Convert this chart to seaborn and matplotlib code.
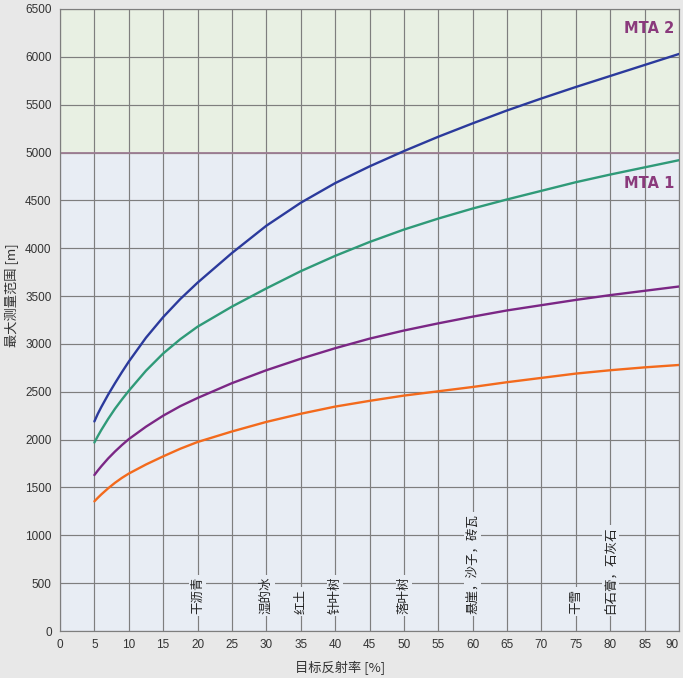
import matplotlib
matplotlib.use("Agg")
import matplotlib.pyplot as plt
import seaborn as sns
import pandas as pd

# Target reflectance [%] at which the range was sampled
reflectance = [5, 5.5, 6, 7, 8, 9, 10, 12.5, 15, 17.5, 20, 25, 30, 35, 40, 45, 50,
               55, 60, 65, 70, 75, 80, 85, 90]

# Maximum measuring range [m] for the four curves
range_blue = [2190, 2270, 2340, 2470, 2590, 2705, 2815, 3065, 3280, 3470, 3640,
              3950, 4235, 4475, 4680, 4855, 5015, 5165, 5305, 5440, 5565, 5685,
              5800, 5915, 6030]
range_green = [1970, 2037, 2100, 2216, 2323, 2419, 2510, 2720, 2900, 3050, 3180,
               3390, 3580, 3760, 3920, 4065, 4195, 4310, 4415, 4510, 4600, 4690,
               4770, 4845, 4920]
range_purple = [1630, 1677, 1721, 1803, 1876, 1943, 2005, 2135, 2250, 2350, 2435,
                2590, 2725, 2845, 2955, 3055, 3140, 3215, 3285, 3350, 3405, 3460,
                3510, 3555, 3600]
range_orange = [1355, 1392, 1427, 1491, 1549, 1600, 1645, 1740, 1825, 1905, 1975,
                2085, 2185, 2270, 2345, 2405, 2460, 2505, 2550, 2600, 2645, 2690,
                2725, 2755, 2780]

series_names = ["blue", "green", "purple", "orange"]
series_colors = ["#2b3a9c", "#2f9a78", "#7b2785", "#f36a1c"]

# Typical surfaces and their reflectance
material_x = [20, 30, 35, 40, 50, 60, 75, 80]
material_labels = ["干沥青", "湿的冰", "红土", "针叶树", "落叶树",
                   "悬崖，沙子，砖瓦", "干雪", "白石膏，石灰石"]

x_ticks = list(range(0, 95, 5))
y_ticks = list(range(0, 7000, 500))

frames = []
for name, vals in zip(series_names, [range_blue, range_green, range_purple, range_orange]):
    frames.append(pd.DataFrame({"reflectance": reflectance, "range": vals, "series": name}))
df = pd.concat(frames, ignore_index=True)

sns.set_theme(style="white")
plt.rcParams["font.family"] = ["Noto Sans CJK SC", "DejaVu Sans"]

fig = plt.figure(figsize=(6.83, 6.78), dpi=100)
fig.patch.set_facecolor("#e8e8e8")
ax = fig.add_axes([60 / 683, 1 - 631 / 678, 619 / 683, 622 / 678])

# Two shaded bands behind the curves
ax.set_facecolor("#e8edf4")
ax.axhspan(5000, 6500, color="#e8f0e3", zorder=0)

grid_color = "#7e7e7e"
for x in x_ticks:
    ax.axvline(x, color=grid_color, lw=0.85, zorder=1)
for y in y_ticks:
    ax.axhline(y, color=grid_color, lw=0.85, zorder=1)
ax.axhline(5000, color="#9c7c92", lw=1.3, zorder=1.5)

sns.lineplot(data=df, x="reflectance", y="range", hue="series",
             palette=dict(zip(series_names, series_colors)),
             linewidth=1.7, legend=False, ax=ax, zorder=3)

for x, lab in zip(material_x, material_labels):
    ax.text(x, 175, lab, rotation=90, ha="center", va="bottom", fontsize=9,
            color="#222222", zorder=4,
            bbox=dict(boxstyle="square,pad=0.15", fc="#e8edf4", ec="none"))

ax.text(89.3, 6300, "MTA 2", ha="right", va="center", fontsize=10.5,
        fontweight="bold", color="#8a3a7c", family=["DejaVu Sans"], zorder=4)
ax.text(89.3, 4680, "MTA 1", ha="right", va="center", fontsize=10.5,
        fontweight="bold", color="#8a3a7c", family=["DejaVu Sans"], zorder=4)

ax.set_xlim(0, 90)
ax.set_ylim(0, 6500)
ax.set_xticks(x_ticks)
ax.set_yticks(y_ticks)
ax.tick_params(axis="both", length=0, labelsize=8.5, labelcolor="#333333", pad=6)
for lab in ax.get_xticklabels() + ax.get_yticklabels():
    lab.set_family(["Liberation Sans", "DejaVu Sans"])
ax.get_xticklabels()[-1].set_horizontalalignment("right")
for s in ax.spines.values():
    s.set_color(grid_color)
    s.set_linewidth(0.85)

ax.set_xlabel("目标反射率 [%]", fontsize=9.5, color="#333333")
ax.set_ylabel("最大测量范围 [m]", fontsize=9.5, color="#333333")
ax.xaxis.set_label_coords(0.452, -0.048)
ax.yaxis.set_label_coords(-0.066, 0.54)

fig.savefig("out.png", dpi=100, facecolor=fig.get_facecolor())
